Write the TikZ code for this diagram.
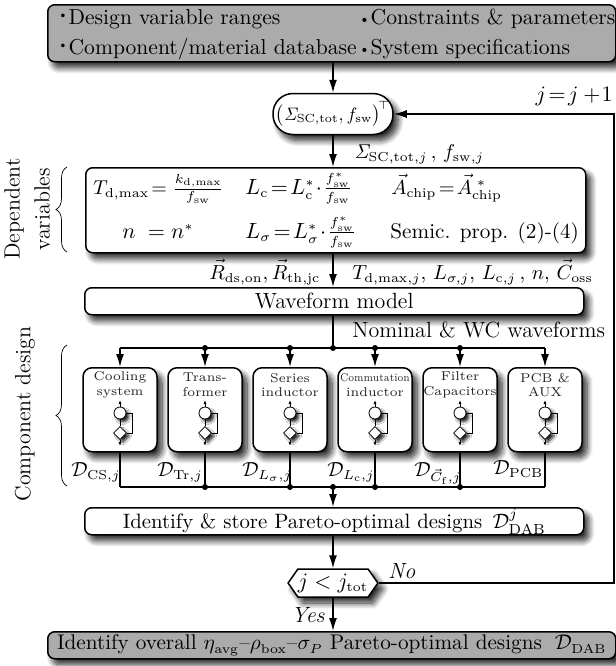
\documentclass[tikz,border=0pt]{standalone}
\usepackage{fix-cm}
\usepackage{amsmath}
\usetikzlibrary{arrows.meta,shapes.geometric,shapes.misc,shapes.symbols,shadows.blur,decorations.pathreplacing}
\DeclareMathSizes{11}{11}{6.5}{5}
\DeclareMathSizes{10.6}{10.6}{6.5}{5}
\DeclareMathSizes{10.2}{10.2}{6.5}{5}
\DeclareMathSizes{10}{10}{6.5}{5}
\newcommand{\mainsize}{\fontsize{11}{13}\selectfont}
\newcommand{\widesize}{\fontsize{10.6}{13}\selectfont}
\newcommand{\mathsize}{\fontsize{10.2}{13}\selectfont}
\newcommand{\compsize}{\fontsize{6.4}{7.4}\selectfont}
\tikzset{
  every node/.style={font=\mainsize,inner sep=0pt},
  softshadow/.style={blur shadow={shadow xshift=2.5pt,shadow yshift=-3pt,shadow blur radius=3pt,shadow blur steps=10,shadow opacity=85}},
  minishadow/.style={blur shadow={shadow xshift=1.5pt,shadow yshift=-1.5pt,shadow blur radius=1.2pt,shadow blur steps=6,shadow opacity=85}},
  whitebox/.style={draw,line width=0.75pt,rounded corners=3.5pt,fill=white,softshadow,minimum width=249.5pt,anchor=north west},
  greybox/.style={draw,line width=0.75pt,rounded corners=3.5pt,fill=black!33,softshadow,minimum width=284pt,anchor=north west},
  compbox/.style={draw,line width=0.75pt,rounded corners=4.5pt,fill=white,softshadow,minimum width=37pt,minimum height=42pt,anchor=north},
  comptext/.style={font=\compsize,align=center,text=black!85},
  minicirc/.style={circle,draw,fill=white,line width=0.4pt,minimum size=6pt,minishadow},
  minidiam/.style={diamond,draw,fill=white,line width=0.4pt,minimum size=6.5pt,minishadow},
  flow/.style={line width=0.75pt,-{Latex[length=6.5pt,width=4pt]}},
  plainline/.style={line width=0.75pt},
  ministub/.style={line width=0.4pt,-{Latex[length=2pt,width=1.5pt]}},
  dotmark/.style={circle,fill=black,minimum size=3pt},
  bracket/.style={decorate,decoration={brace,amplitude=5.5pt},line width=0.35pt}
}
\begin{document}
\begin{tikzpicture}[x=0.5pt,y=-0.5pt]
\useasboundingbox (0,0) rectangle (616,666);

% input box
\node[greybox,minimum height=28.5pt] (inputs) at (47,4) {};
\node[anchor=base west] (rangetxt) at (57,24) {\raisebox{0.55ex}{\fontsize{6}{6}\selectfont\textbullet}\fontsize{10.8}{13}\selectfont Design variable ranges};
\node[anchor=base west] (dbtxt) at (57,54) {\raisebox{0.55ex}{\fontsize{6}{6}\selectfont\textbullet}\fontsize{10.8}{13}\selectfont Component/material database};
\node[anchor=base west] (constrtxt) at (358,24) {\raisebox{0.1ex}{\fontsize{7}{7}\selectfont\textbullet}\fontsize{10.8}{13}\selectfont Constraints \& parameters};
\node[anchor=base west] (spectxt) at (358,54) {\raisebox{0.1ex}{\fontsize{7}{7}\selectfont\textbullet}\fontsize{10.8}{13}\selectfont System specifications};

% sweep variables
\node[draw,line width=0.75pt,rounded corners=10pt,fill=white,softshadow,minimum width=60pt,minimum height=20.5pt,font=\fontsize{10}{12}\selectfont] (sweep) at (333,114) {\scalebox{0.9}{$\bigl(\mathit{\Sigma}_{\mathrm{SC,tot}},f_{\mathrm{sw}}\bigr)^{\!\top}$}};
\node[anchor=base west,font=\fontsize{10}{12}\selectfont] (sweeplab) at (354,158) {$\mathit{\Sigma}_{\mathrm{SC,tot},j}\,,\,f_{\mathrm{sw},j}$};
\node[anchor=base east] (iterlab) at (613,101) {$j\!=\!j+\!1$};

% dependent variables
\node[whitebox,minimum height=42.5pt,minimum width=250pt] (depvars) at (85,167) {};
\node[anchor=base west,font=\fontsize{10}{12}\selectfont] (eqtd) at (93,194) {$T_{\mathrm{d,max}}\!=\frac{k_{\mathrm{d,max}}}{f_{\mathrm{sw}}}$};
\node[anchor=base west] (eqlc) at (245,194) {$L_{\mathrm{c}}\!=\!L_{\mathrm{c}}^{*}\!\cdot\!\frac{f_{\mathrm{sw}}^{*}}{f_{\mathrm{sw}}}$};
\node[anchor=base west,font=\mathsize] (eqa) at (391,194) {$\vec{A}_{\mathrm{chip}}\!=\!\vec{A}_{\mathrm{chip}}^{\;*}$};
\node[anchor=base west] (eqn) at (122,238) {$n\;=n^{*}$};
\node[anchor=base west] (eqls) at (245,238) {$L_{\sigma}\!=\!L_{\sigma}^{*}\!\cdot\!\frac{f_{\mathrm{sw}}^{*}}{f_{\mathrm{sw}}}$};
\node[anchor=base west,font=\widesize] (eqsem) at (390,238) {Semic. prop. (2)-(4)};
\node[anchor=base west,font=\mathsize] (rlab) at (209,279) {$\vec{R}_{\mathrm{ds,on}},\vec{R}_{\mathrm{th,jc}}$};
\node[anchor=base west,font=\mathsize] (tlab) at (352,279) {$T_{\mathrm{d,max},j},\,L_{\sigma,j},\,L_{\mathrm{c},j}\,,\,n,\,\vec{C}_{\mathrm{oss}}$};

% waveforms
\node[whitebox,minimum height=13.5pt] (wavemodel) at (84,287) {Waveform model};
\node[anchor=base west] (wavelab) at (352,337) {Nominal \& WC waveforms};
\coordinate (busin) at (333,348);
\coordinate (busout) at (333,487);

% component blocks
\foreach \i/\x/\txt in {1/120/{Cooling\\system},2/205/{Trans-\\former},3/290/{Series\\inductor},4/375/{\scalebox{0.85}[1]{\fontsize{5.6}{7.4}\selectfont Commutation}\\inductor},5/460/{Filter\\Capacitors},6/545/{PCB \&\\AUX}}{
  \node[compbox] (comp\i) at (\x,367) {};
  \node[comptext] (title\i) at (\x,385) {\txt};
  \node[minicirc] (circ\i) at (\x,413) {};
  \node[minidiam] (diam\i) at (\x,433) {};
  \coordinate (up\i) at (\x,400);
  \coordinate (down\i) at (\x,446);
  \draw[line width=0.4pt] (circ\i.south) -- (diam\i.north);
  \draw[line width=0.4pt] (circ\i.east) -- ++(6,0) |- (diam\i.east);
  \draw[ministub] (circ\i.north) -- (up\i);
  \draw[ministub] (diam\i.south) -- (down\i);
  \draw[flow] (comp\i.north |- busin) -- (comp\i.north);
  \draw[plainline] (comp\i.south) -- (comp\i.south |- busout);
}
\draw[plainline] (comp1.north |- busin) -- (comp6.north |- busin);
\draw[plainline] (comp1.south |- busout) -- (comp6.south |- busout);
\foreach \i in {2,3,4,5}{
  \node[dotmark] (dotin\i) at (comp\i.north |- busin) {};
  \node[dotmark] (dotout\i) at (comp\i.south |- busout) {};
}
\node[dotmark] (dotin) at (busin) {};
\node[dotmark] (dotout) at (busout) {};

\node[anchor=base west,font=\mathsize] (dcs) at (71,476) {$\mathcal{D}_{\mathrm{CS},j}$};
\node[anchor=base west,font=\mathsize] (dtr) at (157,476) {$\mathcal{D}_{\mathrm{Tr},j}$};
\node[anchor=base west,font=\mathsize] (dls) at (242,476) {$\mathcal{D}_{L_{\sigma},j}$};
\node[anchor=base west,font=\mathsize] (dlc) at (327,476) {$\mathcal{D}_{L_{\mathrm{c}},j}$};
\node[anchor=base west,font=\mathsize] (dcf) at (414,476) {$\mathcal{D}_{\vec{C}_{\mathrm{f}},j}$};
\node[anchor=base west,font=\mathsize] (dpcb) at (493,474) {$\mathcal{D}_{\mathrm{PCB}}$};

% pareto front of one iteration
\node[whitebox,minimum height=13.5pt,font=\fontsize{10.4}{13}\selectfont] (store) at (84,507) {Identify \& store Pareto-optimal designs\, $\mathcal{D}_{\mathrm{DAB}}^{j}$};
\node[signal,signal to=east and west,draw,line width=0.75pt,fill=white,softshadow,minimum width=44.5pt,minimum height=14pt,signal pointer angle=110] (check) at (333,583) {$j<j_{\mathrm{tot}}$};
\node[anchor=base west] (nolab) at (388,578) {\textit{No}};
\node[anchor=base west] (yeslab) at (291,622) {\textit{Yes}};

% overall pareto front
\node[greybox,minimum height=13.5pt,font=\widesize] (overall) at (47,631) {Identify overall $\eta_{\mathrm{avg}}$\text{--}$\rho_{\mathrm{box}}$\text{--}$\sigma_{P}$ Pareto-optimal designs\; $\mathcal{D}_{\mathrm{DAB}}$};

% connectors
\coordinate (loopa) at (614,583);
\coordinate (loopb) at (614,114);
\draw[flow] (inputs.south -| sweep.north) -- (sweep.north);
\draw[flow] (sweep.south) -- (sweep.south |- depvars.north);
\draw[flow] (sweep.south |- depvars.south) -- (sweep.south |- wavemodel.north);
\draw[plainline] (sweep.south |- wavemodel.south) -- (dotin);
\draw[flow] (dotout) -- (dotout |- store.north);
\draw[flow] (dotout |- store.south) -- (check.north);
\draw[flow] (check.south) -- (check.south |- overall.north);
\draw[flow] (check.east) -- (loopa) -- (loopb) -- (sweep.east);

% side labels
\coordinate (bracedepa) at (67,252);
\coordinate (bracedepb) at (67,167);
\coordinate (bracecompa) at (67,486);
\coordinate (bracecompb) at (67,345);
\draw[bracket] (bracedepa) -- (bracedepb);
\draw[bracket] (bracecompa) -- (bracecompb);
\node[rotate=90] (deplab) at (14,209) {Dependent};
\node[rotate=90] (varlab) at (42,209) {variables};
\node[rotate=90] (complab) at (25,414) {Component design};
\end{tikzpicture}
\end{document}
